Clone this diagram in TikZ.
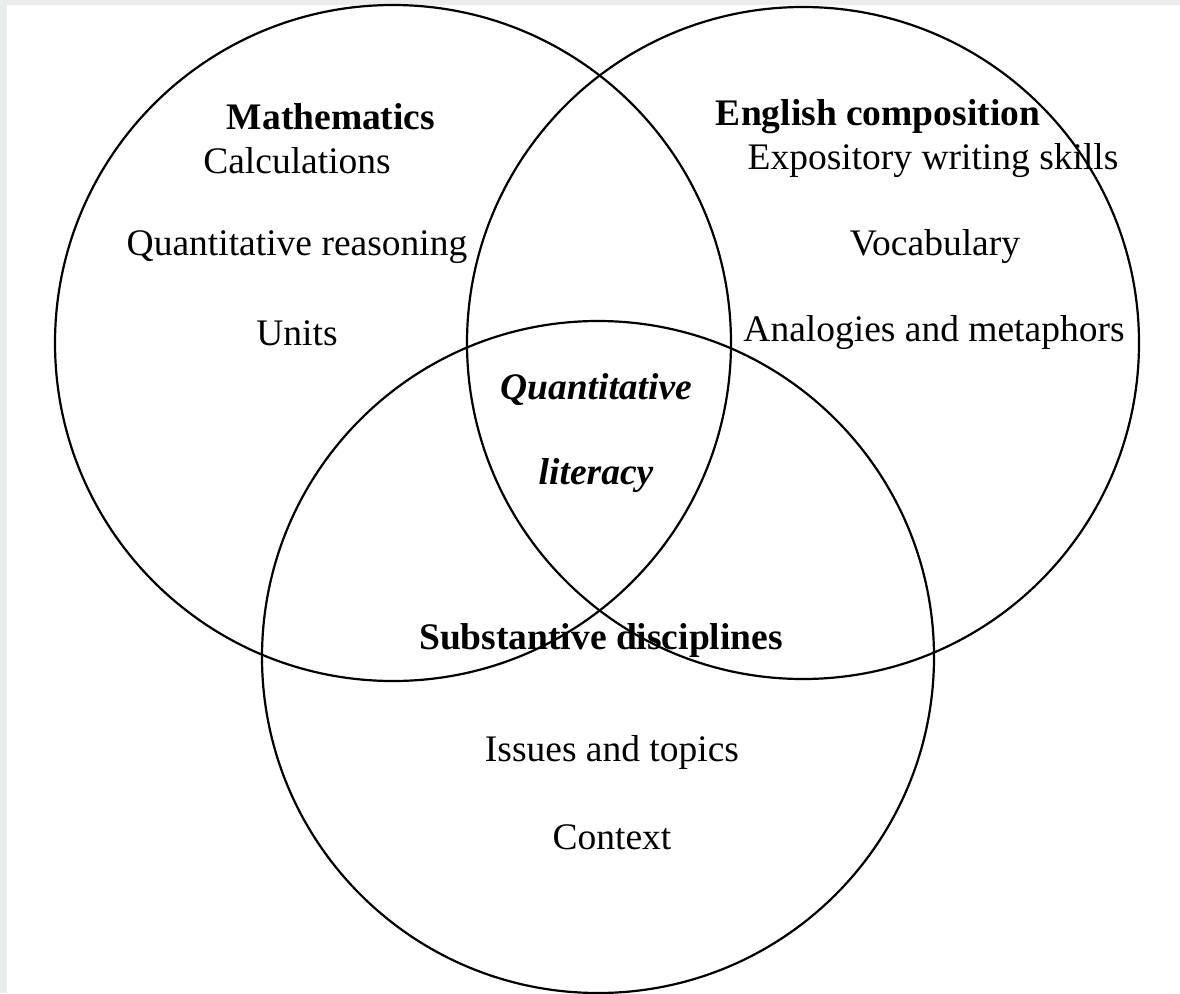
\documentclass[tikz,border=0pt]{standalone}
\usepackage{fontspec}
\setmainfont{Liberation Serif}
\definecolor{framegray}{HTML}{EBECEC}
\begin{document}
\begin{tikzpicture}[x=1pt,y=-1pt,
  ring/.style={circle,draw=black,line width=2.2pt,inner sep=0pt,minimum size=#1},
  lbl/.style={inner sep=0pt,font=\fontsize{37.5}{44}\selectfont},
  head/.style={lbl,font=\fontsize{37.5}{44}\selectfont\bfseries},
  core/.style={lbl,font=\fontsize{37.5}{44}\selectfont\bfseries\itshape}]
\useasboundingbox (0,0) rectangle (1180,993);
\fill[framegray] (0,0) rectangle (1180,993);
\fill[white] (7,5) rectangle (1180,993);
\node[ring=676pt] (math) at (393,343) {};
\node[ring=672pt] (eng) at (803,343) {};
\node[ring=672pt] (subst) at (598,657) {};
\node[head] (mh) at (331,117) {Mathematics};
\node[lbl] (m1) at (297,161) {Calculations};
\node[lbl] (m2) at (297,247) {Quantitative reasoning};
\node[lbl] (m3) at (297,333) {Units};
\node[head] (eh) at (878,117) {English composition};
\node[lbl] (e1) at (933,161) {Expository writing skills};
\node[lbl] (e2) at (935,247) {Vocabulary};
\node[lbl] (e3) at (934,333) {Analogies and metaphors};
\node[core] (q1) at (596,390) {Quantitative};
\node[core] (q2) at (596,476) {literacy};
\node[head] (sh) at (601,640) {Substantive disciplines};
\node[lbl] (s1) at (612,752) {Issues and topics};
\node[lbl] (s2) at (612,837) {Context};
\end{tikzpicture}
\end{document}
